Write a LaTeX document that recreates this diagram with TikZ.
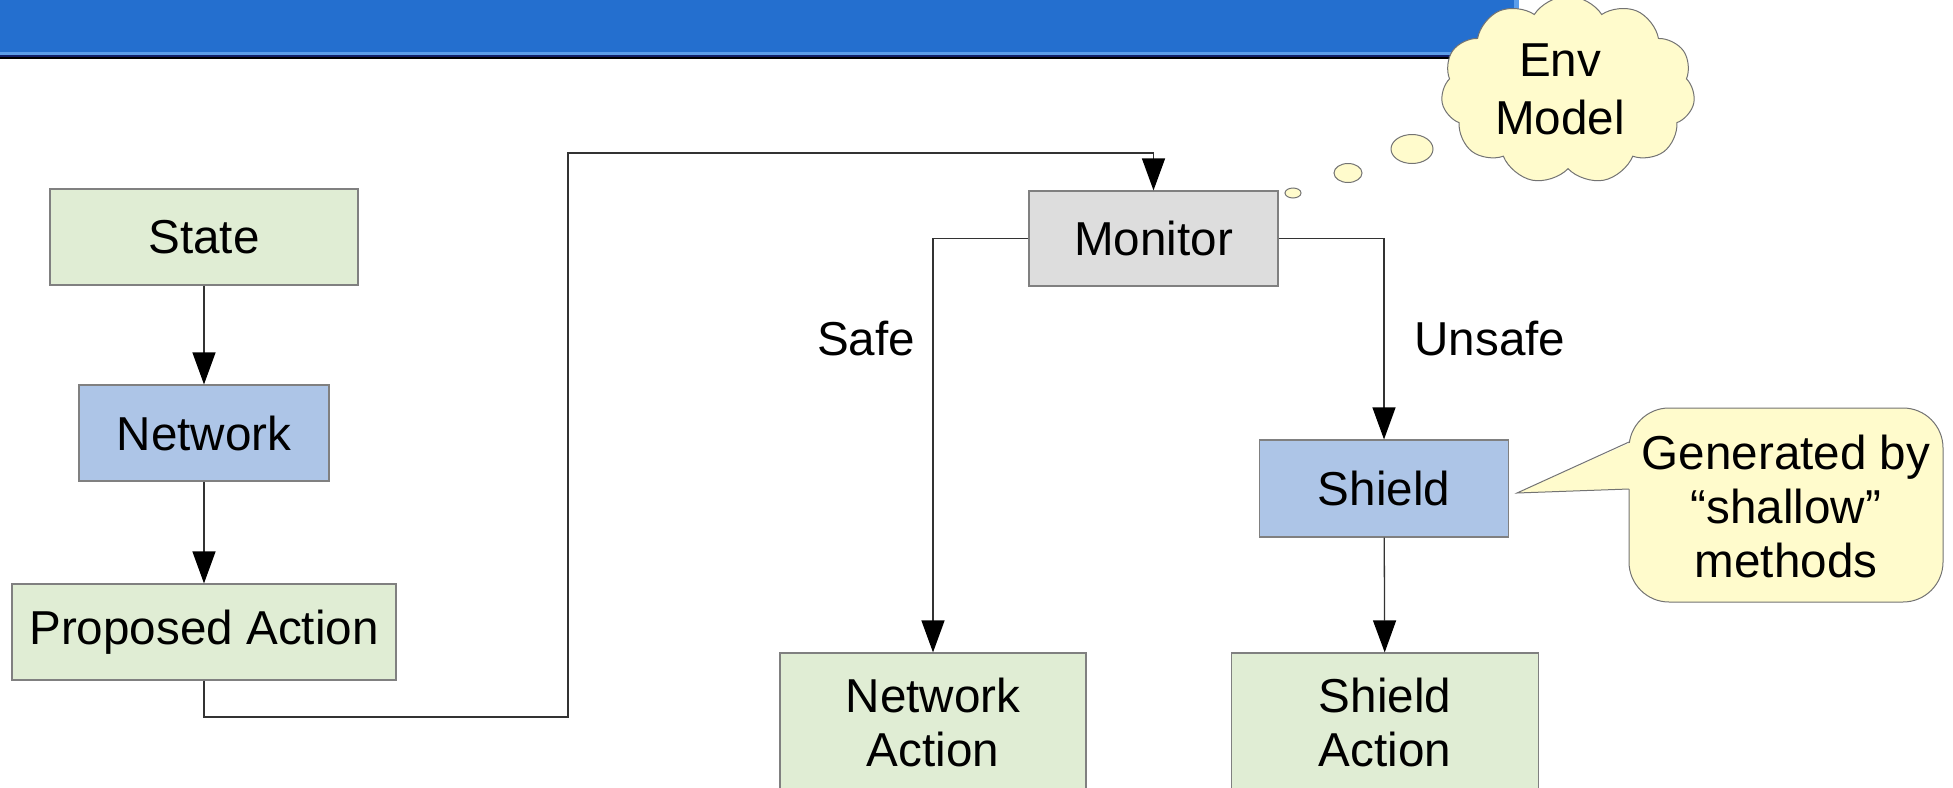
\documentclass[tikz,border=0pt]{standalone}
\usepackage{fontspec}
\setmainfont{Liberation Sans}
\usetikzlibrary{arrows.meta,shapes.symbols,calc}
\definecolor{boxgreen}{HTML}{E0EDD4}
\definecolor{boxblue}{HTML}{ADC5E7}
\definecolor{boxgray}{HTML}{DDDDDD}
\definecolor{noteyellow}{HTML}{FFFBCC}
\definecolor{edgegray}{HTML}{808080}
\definecolor{barblue}{HTML}{246FCF}
\definecolor{barlight}{HTML}{5C9EEA}
\definecolor{bardark}{HTML}{12206A}
\tikzset{
  box/.style={draw=edgegray, line width=0.6pt, inner sep=0pt, align=center,
    font=\fontsize{23.8}{27}\selectfont},
  greenbox/.style={box, fill=boxgreen},
  bluebox/.style={box, fill=boxblue},
  graybox/.style={box, fill=boxgray},
  arr/.style={draw=black!80, line width=0.65pt,
    -{Triangle[width=11.5pt,length=16pt,color=black]}},
  lbl/.style={font=\fontsize{23.8}{27}\selectfont, inner sep=0pt},
  note/.style={draw=edgegray!90!black, fill=noteyellow, line width=0.5pt},
}
\begin{document}
\begin{tikzpicture}[x=0.5pt,y=-0.5pt]
\useasboundingbox (0,0) rectangle (1953,787);

% title bar
\fill[barblue] (0,0) rectangle (1519,52);
\fill[barlight] (0,52) rectangle (1519,55);
\fill[barlight] (1514,0) rectangle (1519,55);
\fill[bardark] (0,55) rectangle (1519,57);
\fill[black] (0,57) rectangle (1519,59);

% left column
\node[greenbox, minimum width=154pt, minimum height=48pt] (state) at (204,237) {State};
\node[bluebox, minimum width=125pt, minimum height=48pt] (net) at (204,433) {Network};
\node[greenbox, minimum width=192pt, minimum height=48pt] (prop) at (204,632) {Proposed Action};

% monitor and its outcomes
\node[graybox, minimum width=124.5pt, minimum height=47.5pt] (mon) at (1153.5,238.5) {Monitor};
\node[bluebox, minimum width=124.5pt, minimum height=48.5pt] (shield) at (1384,488.5) {Shield};
\node[greenbox, minimum width=153pt, minimum height=69pt] (netact) at (933,722) {Network\\Action};
\node[greenbox, minimum width=153.5pt, minimum height=69pt] (shact) at (1385,722) {Shield\\Action};

% route points of the long connector
\coordinate (c1) at (568,717);
\coordinate (c2) at (568,153);

\draw[arr] (state) -- (net);
\draw[arr] (net) -- (prop);
\draw[arr] (prop.south) |- (c1) -- (c2) -| (mon.north);
\draw[arr] (mon.west) -| (netact.north);
\draw[arr] (mon.east) -| (shield.north);
\draw[arr] (shield) -- (shact);

\node[lbl] (safe) at (866,339) {Safe};
\node[lbl] (unsafe) at (1490,339) {Unsafe};

% thought cloud
\draw[note] (1293,193) ellipse (8 and 5);
\draw[note] (1348,173) ellipse (14 and 9.5);
\draw[note] (1412,149) ellipse (21 and 14.5);
\node[note, cloud, cloud puffs=11, cloud puff arc=115, aspect=1.25,
  minimum width=127pt, minimum height=94pt, inner sep=0pt] (cloud) at (1568,90) {};
\node[lbl, align=center, font=\fontsize{23.8}{29}\selectfont] (env) at (1560,89) {Env\\Model};

% speech callout
\draw[note, rounded corners=20pt] (1629,408) rectangle (1943,602);
\coordinate (tip) at (1517,493);
\coordinate (b1) at (1629,442);
\coordinate (b2) at (1629,489);
\fill[noteyellow] ($(b1)+(3,0)$) -- (tip) -- ($(b2)+(3,0)$) -- cycle;
\draw[draw=edgegray!90!black, line width=0.5pt] (b1) -- (tip) -- (b2);
\node[lbl, align=center, font=\fontsize{23.8}{27}\selectfont] (gen) at (1786,506) {Generated by\\“shallow”\\methods};
\end{tikzpicture}
\end{document}
